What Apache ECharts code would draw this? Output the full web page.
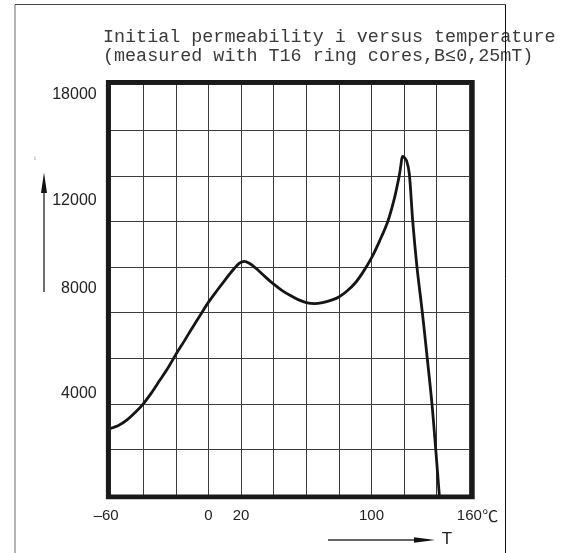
<!DOCTYPE html>
<html>
<head>
<meta charset="utf-8">
<script src="https://cdn.jsdelivr.net/npm/echarts@6/dist/echarts.min.js"></script>
<style>
  html, body { margin: 0; padding: 0; background: #fff; }
  #chart { width: 563px; height: 553px; }
</style>
</head>
<body>
<div id="chart"></div>
<script>
// temperature in degC and initial permeability
var temps = [-60, -55, -50, -45, -40, -35, -30, -25, -20, -15, -10, -5, 0, 5, 10, 15, 19, 22, 25, 28, 30, 35, 40, 45, 50, 55, 60, 65, 70, 75, 80, 85, 90, 95, 100, 105, 110, 114, 117, 118, 119, 120, 121.5, 123.2, 125.3, 127.9, 131.2, 134.2, 137.1, 139.4, 141.6];
var perm  = [2920, 3060, 3300, 3620, 4000, 4480, 5020, 5560, 6170, 6740, 7330, 7900, 8460, 8950, 9420, 9870, 10170, 10250, 10170, 10010, 9890, 9560, 9250, 8980, 8760, 8570, 8440, 8395, 8440, 8540, 8690, 8950, 9300, 9800, 10400, 11150, 12000, 13000, 14000, 14450, 14850, 14820, 14670, 14090, 12000, 10000, 8000, 6000, 4000, 2000, 0];

// x tick labels that are printed
var xLabelValues = [-60, 0, 20, 100, 160];
var xLabelTexts  = ['\u201360', '0', '20', '100', '160'];
var xUnit = '\u2103';

// y tick labels and where they sit on the grid's scale (they are printed off their grid lines)
var yLabelTexts = ['4000', '8000', '12000', '18000'];
var yLabelAt    = [4440, 9060, 12930, 17580];

var titleText = 'Initial permeability i versus temperature\n(measured with T16 ring cores,B\u22640,25mT)';

var chart = echarts.init(document.getElementById('chart'));

var data = [];
for (var i = 0; i < temps.length; i++) {
  data.push([temps[i], perm[i]]);
}

var option = {
  backgroundColor: '#fff',
  animation: false,
  title: {
    text: titleText,
    left: 103,
    top: 28,
    padding: 0,
    textStyle: {
      fontFamily: 'Liberation Mono',
      fontWeight: 'normal',
      fontSize: 18.4,
      lineHeight: 19,
      color: '#3a3a3a'
    }
  },
  grid: {
    left: 110.7,
    top: 84.7,
    width: 358.6,
    height: 410.3,
    containLabel: false
  },
  xAxis: {
    type: 'value',
    min: -60,
    max: 160,
    interval: 20,
    axisLine: { show: false },
    axisTick: { show: false },
    splitLine: { show: true, lineStyle: { color: '#3c3c3c', width: 1 } },
    axisLabel: {
      margin: 13,
      fontFamily: 'Liberation Sans',
      fontSize: 15,
      color: '#222',
      formatter: function (v) {
        var k = xLabelValues.indexOf(v);
        if (k < 0) return '';
        // first label sits a little left of its line in the print
        if (k === 0) return '{n|' + xLabelTexts[k] + '}{p2|}';
        // last label carries the unit, kept off-centre so the number stays on its line
        if (k === xLabelValues.length - 1) return '{p|}{n|' + xLabelTexts[k] + '}{u|' + xUnit + '}';
        return '{n|' + xLabelTexts[k] + '}';
      },
      rich: {
        n: { fontFamily: 'Liberation Sans', fontSize: 15, color: '#222' },
        p: { width: 17 },
        p2: { width: 9 },
        u: { fontFamily: 'Noto Sans CJK SC', fontSize: 16, color: '#222', width: 17 }
      }
    }
  },
  yAxis: [
    {
      type: 'value',
      min: 0,
      max: 18000,
      interval: 2000,
      axisLine: { show: false },
      axisTick: { show: false },
      axisLabel: { show: false },
      splitLine: { show: true, lineStyle: { color: '#3c3c3c', width: 1 } }
    },
    {
      type: 'value',
      min: 0,
      max: 18000,
      position: 'left',
      axisLine: { show: false },
      axisTick: { show: false },
      splitLine: { show: false },
      axisLabel: {
        customValues: yLabelAt,
        margin: 14,
        fontFamily: 'Liberation Sans',
        fontSize: 16,
        color: '#222',
        formatter: function (v) {
          var best = 0;
          for (var j = 1; j < yLabelAt.length; j++) {
            if (Math.abs(yLabelAt[j] - v) < Math.abs(yLabelAt[best] - v)) best = j;
          }
          return yLabelTexts[best];
        }
      }
    }
  ],
  series: [{
    type: 'line',
    data: data,
    smooth: 0.3,
    showSymbol: false,
    symbol: 'none',
    lineStyle: { color: '#151515', width: 2.8 },
    z: 5
  }],
  graphic: [
    // thick frame round the plot
    {
      type: 'rect', z: 100,
      shape: { x: 108.3, y: 82.3, width: 364, height: 414.6 },
      style: { fill: null, stroke: '#1a1a1a', lineWidth: 4.8 }
    },
    // page frame lines
    { type: 'line', z: 100, shape: { x1: 15, y1: 4.5, x2: 15, y2: 553 }, style: { stroke: '#8a8a8a', lineWidth: 1.3 } },
    { type: 'line', z: 100, shape: { x1: 15, y1: 4.5, x2: 505.5, y2: 4.5 }, style: { stroke: '#444', lineWidth: 1 } },
    { type: 'line', z: 100, shape: { x1: 505.5, y1: 4.5, x2: 505.5, y2: 553 }, style: { stroke: '#111', lineWidth: 1 } },
    // y quantity and arrow
    {
      type: 'text', z: 100, x: 35, y: 158,
      style: { text: 'i', fontSize: 7, fill: '#999', align: 'center', verticalAlign: 'middle', fontFamily: 'Liberation Serif' }
    },
    { type: 'line', z: 100, shape: { x1: 44, y1: 292, x2: 44, y2: 188 }, style: { stroke: '#222', lineWidth: 1.3 } },
    { type: 'polygon', z: 100, shape: { points: [[44, 172.5], [41, 193], [47, 193]] }, style: { fill: '#111' } },
    // x quantity and arrow
    { type: 'line', z: 100, shape: { x1: 328, y1: 540, x2: 418, y2: 540 }, style: { stroke: '#333', lineWidth: 1.3 } },
    { type: 'polygon', z: 100, shape: { points: [[435, 540], [414, 537.2], [414, 542.8]] }, style: { fill: '#111' } },
    {
      type: 'text', z: 100, x: 447, y: 539,
      style: { text: 'T', fontSize: 17, fill: '#222', align: 'center', verticalAlign: 'middle', fontFamily: 'Liberation Sans' }
    }
  ]
};

chart.setOption(option);
window.addEventListener('resize', function () { chart.resize(); });
</script>
</body>
</html>
